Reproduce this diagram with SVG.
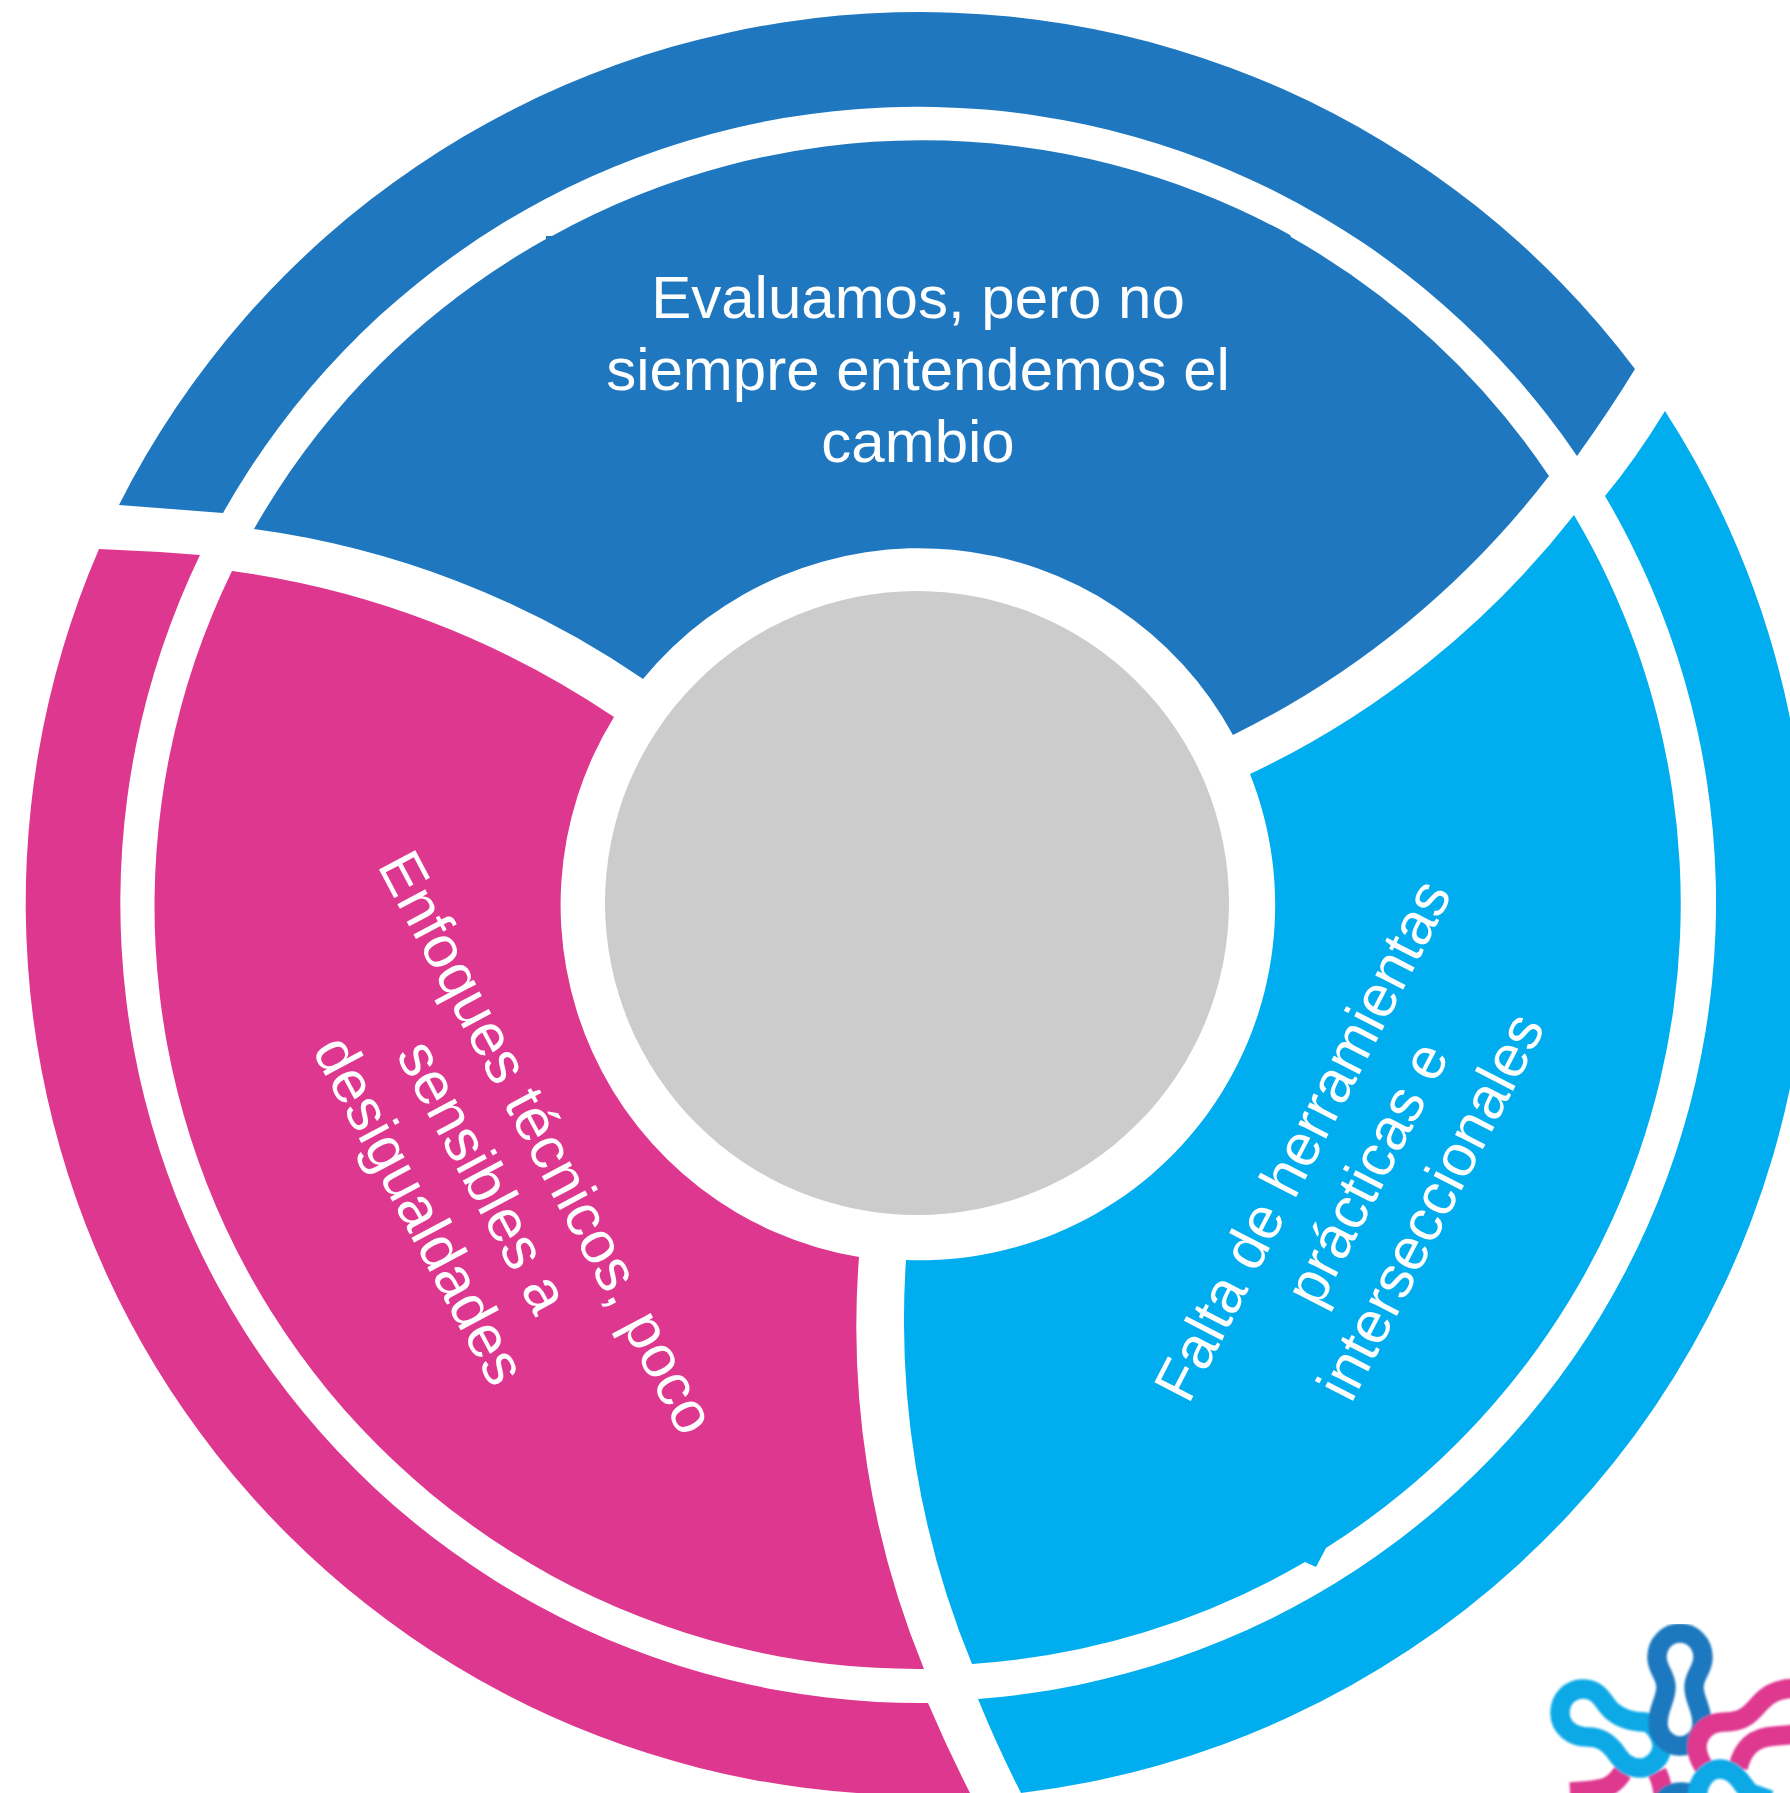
<svg xmlns="http://www.w3.org/2000/svg" width="1790" height="1793" viewBox="0 0 1790 1793">
<style>
.t{font-family:"Liberation Sans",Arial,sans-serif;font-size:60px;fill:#fff;text-anchor:middle}
.rp{font-size:59.6px}.rs{font-size:59.2px}
.blue{fill:#1f78bf}.pink{fill:#de378f}.sky{fill:#00aeef}
.lg{fill:none;stroke-width:19.5;stroke-linecap:butt;stroke-linejoin:round}
.ld{stroke:#1f78bf}.lp{stroke:#de378f}.ls{stroke:#0aa9e6}
</style>
<defs><filter id="soft" x="-5%" y="-5%" width="110%" height="110%"><feGaussianBlur stdDeviation="0.8"/></filter></defs>
<rect width="1790" height="1793" fill="#fff"/>
<g id="ring-blue"><path class="blue" d="M119,505A896,896 0 0 1 1635,369Q1610,410 1577,456A797,797 0 0 0 223,513Z"/></g>
<g id="ring-pink"><path class="pink" d="M99,549Q150,551 200,555A800,800 0 0 0 928,1703Q948,1750 970,1793L857,1793A892,892 0 0 1 99,549Z"/></g>
<g id="ring-sky"><path class="sky" d="M1665,411A895,895 0 0 1 1790,718L1790,1088A895,895 0 0 1 1021,1793Q998,1748 978,1699A799,799 0 0 0 1605,496Q1635,460 1665,411Z"/></g>
<g id="sector-blue"><path class="blue" d="M254,529A900,900 0 0 1 643,679A357,357 0 0 1 1233,735A900,900 0 0 0 1549,476A763,763 0 0 0 1291,237L1290,235A763,763 0 0 0 552,236L546,236L546,239A763,763 0 0 0 254,529Z"/>
<text class="t" x="918" y="318">Evaluamos, pero no</text><text class="t" x="918" y="390">siempre entendemos el</text><text class="t" x="918" y="462">cambio</text></g>
<g id="sector-pink"><path class="pink" d="M232,571A900,900 0 0 1 614,717A357,357 0 0 0 859,1257A900,900 0 0 0 924,1669A763,763 0 0 1 232,571Z"/>
<g transform="translate(485,1175.5) rotate(62)"><text class="t rp" x="0" y="-50">Enfoques técnicos, poco</text><text class="t rp" x="0" y="22">sensibles a</text><text class="t rp" x="0" y="94">desigualdades</text></g></g>
<g id="sector-sky"><path class="sky" d="M1574,515A900,900 0 0 1 1250,774A355,355 0 0 1 906,1260A900,900 0 0 0 972,1664A762,762 0 0 0 1305,1562L1316,1567L1326,1548A762,762 0 0 0 1574,515Z"/>
<g transform="translate(1365,1172.5) rotate(-62.7)"><text class="t rs" x="0" y="-50">Falta de herramientas</text><text class="t rs" x="0" y="22">prácticas e</text><text class="t rs" x="0" y="94">interseccionales</text></g></g>
<g id="hub"><circle cx="917" cy="903" r="312" fill="#cccccc"/></g>
<g id="logo" filter="url(#soft)">
<path class="lg lp" d="M1570,1792C1590,1791 1605,1790 1612,1784C1618,1780 1620,1776 1623,1772M1657,1772C1661,1780 1663,1787 1664,1800"/>
<path class="lg ls" d="M1560,1713C1560,1699 1570,1689 1583,1689C1600,1689 1603,1703 1612,1711C1620,1718 1630,1722 1645,1722C1655,1724 1663,1738 1662,1748C1660,1760 1650,1768 1640,1768C1625,1768 1620,1758 1614,1750C1607,1742 1600,1737 1588,1737C1572,1737 1560,1727 1560,1713Z"/>
<path class="lg ld" d="M1680,1633C1667,1633 1657,1644 1657,1657C1657,1670 1666,1675 1666,1687C1666,1700 1658,1708 1658,1723C1658,1736 1668,1746 1680,1746C1692,1746 1702,1736 1702,1723C1702,1708 1694,1700 1694,1687C1694,1675 1703,1670 1703,1657C1703,1644 1693,1633 1680,1633Z"/>
<path class="lg ld" d="M1664,1800C1668,1794 1675,1792 1682,1792C1690,1792 1696,1795 1700,1800"/>
<path class="lg lp" d="M1704,1767C1698,1758 1695,1750 1698,1740C1702,1728 1712,1722 1725,1722C1745,1722 1752,1712 1760,1703C1768,1694 1778,1688 1800,1688M1738,1768C1742,1750 1752,1737 1775,1736L1800,1734"/>
<path class="lg ls" d="M1697,1800C1697,1780 1708,1769 1720,1769C1735,1769 1740,1782 1750,1793L1770,1800"/>
</g>
</svg>
